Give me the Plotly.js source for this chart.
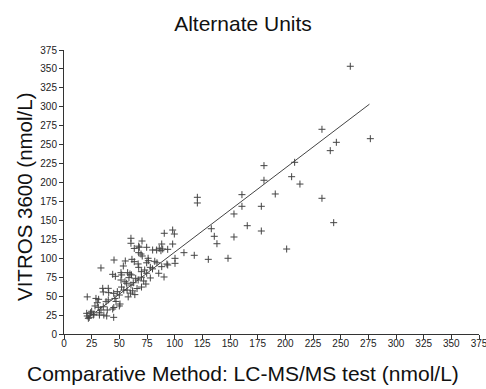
<!DOCTYPE html>
<html>
<head>
<meta charset="utf-8">
<script src="https://cdn.plot.ly/plotly-3.0.1.min.js"></script>
<style>html,body{margin:0;padding:0;background:#fff;}#chart{width:486px;height:389px;}</style>
</head>
<body>
<div id="chart"></div>
<script>
// Comparative method (x) values, nmol/L
const compX = [
  258.7,233.1,276.8,246.1,240.6,180.7,208.4,180.7,205.7,213.2,190.9,233.1,178.3,243.7,178.3,201.2,
  120.5,120.5,160.8,160.8,153.6,133.1,165.6,135.8,138.2,153.6,117.7,130.4,148.2,108.4,
  90.6,98.2,99.7,98.2,88.3,93.7,89.2,87.6,86.1,83.7,80.1,100.3,100.3,93.7,88.3,90.4,85.6,84,82,93,
  60.5,60.5,70.5,67.5,68,63.5,74.7,67.5,69.6,70.7,61.4,63.5,55.4,53.6,67,67.5,74.7,76.2,57.5,59.6,
  58.7,61,64.8,69.9,72.9,74.7,55.1,56.6,60.5,62.6,67,70,72,78,80,76,66,62,57,60,64,58,70,74,78,
  45.2,33.4,44,46.4,51.5,52.1,51.5,35,40,35.5,40.4,44.9,48.2,50,46,47,52,54,28.9,31.3,30.1,21,38,40,
  28,31,33.4,35.5,39.1,44,45,50.6,50,20.5,21,22.8,26.5,32,32,36,38.6,44.9,22,25,27,24
];
// VITROS 3600 (y) values, nmol/L
const vitrosY = [
  353.5,270.3,257.9,253.1,242.1,222.3,226.7,203,207.7,198,184.9,179.2,168.6,147,136,112.2,
  180.5,173,184,168.6,158.5,139,143,129,119.2,128.1,103.9,98.6,100,107.4,
  133,137.3,132,118.8,118.8,111.8,112.2,110,113.2,110.9,110.9,99.9,93.3,91.1,88.9,75.3,80.2,94,96,92.4,
  126.4,119.8,122.8,116,114.5,113,114.5,107.4,105.6,103,98.6,95.5,96.4,89.8,92.5,88,94,96.8,81,79.2,
  74.4,78,73.5,82.3,84.5,80.2,69,67,64.7,67.7,71.3,75,70,88,86,100,60,57,58,54,52,49,62,66,74,
  97.7,87.2,78.8,76.2,81,78,71.3,60.3,60.3,55.5,54.6,53.7,55.9,51.5,47,43,62,58,47,45.8,41.3,49,42.7,45,
  37,35.2,31.7,36,31.7,33,35,39.6,37,27.3,23.8,22,25,28,25,25,23.8,22,20.7,30,26,28
];
// Regression line
const fitSlope = 1.11;
const fitIntercept = -2.9;
const fitRange = [22, 276];
const fitY = fitRange.map(v => fitSlope * v + fitIntercept);

const tickVals = [0,25,50,75,100,125,150,175,200,225,250,275,300,325,350,375];
const xTitle = "Comparative Method: LC-MS/MS test (nmol/L)";
const yTitle = "VITROS 3600 (nmol/L)";
const chartTitle = "Alternate Units";

const font = "Liberation Sans, Arial, sans-serif";
const axisCommon = {
  range: [0, 375],
  tickvals: tickVals,
  showgrid: false,
  zeroline: false,
  showline: true,
  linecolor: "#333",
  linewidth: 1,
  ticks: "outside",
  ticklen: 4,
  tickcolor: "#333",
  tickfont: {family: font, size: 10, color: "#222"},
  ticklabeloverflow: "allow",
  automargin: false
};

const data = [
  {
    x: compX, y: vitrosY, type: "scatter", mode: "markers",
    marker: {symbol: "cross-thin", size: 5, line: {width: 1, color: "#444"}, color: "#444"},
    hoverinfo: "none", cliponaxis: false
  },
  {
    x: fitRange, y: fitY, type: "scatter", mode: "lines",
    line: {color: "#444", width: 1}, hoverinfo: "none"
  }
];

const layout = {
  width: 486, height: 389,
  margin: {l: 64, r: 7, t: 50, b: 55},
  paper_bgcolor: "#fff", plot_bgcolor: "#fff",
  showlegend: false,
  title: {text: chartTitle, font: {family: font, size: 21, color: "#111"}, x: 0.5, xanchor: "center", y: 0.94, yanchor: "middle"},
  xaxis: Object.assign({}, axisCommon, {ticklabelstandoff: -4}),
  yaxis: Object.assign({}, axisCommon, {ticklabelstandoff: 0}),
  annotations: [
    {
      text: xTitle, xref: "paper", yref: "paper",
      x: (243 - 64) / 415, y: (334 - 373) / 284,
      xanchor: "center", yanchor: "middle", showarrow: false,
      font: {family: font, size: 21, color: "#111"}
    },
    {
      text: yTitle, xref: "paper", yref: "paper", textangle: -90,
      x: (24 - 64) / 415, y: (334 - 197) / 284,
      xanchor: "center", yanchor: "middle", showarrow: false,
      font: {family: font, size: 20.5, color: "#111"}
    }
  ]
};

Plotly.newPlot("chart", data, layout, {staticPlot: true, displayModeBar: false});
</script>
</body>
</html>
